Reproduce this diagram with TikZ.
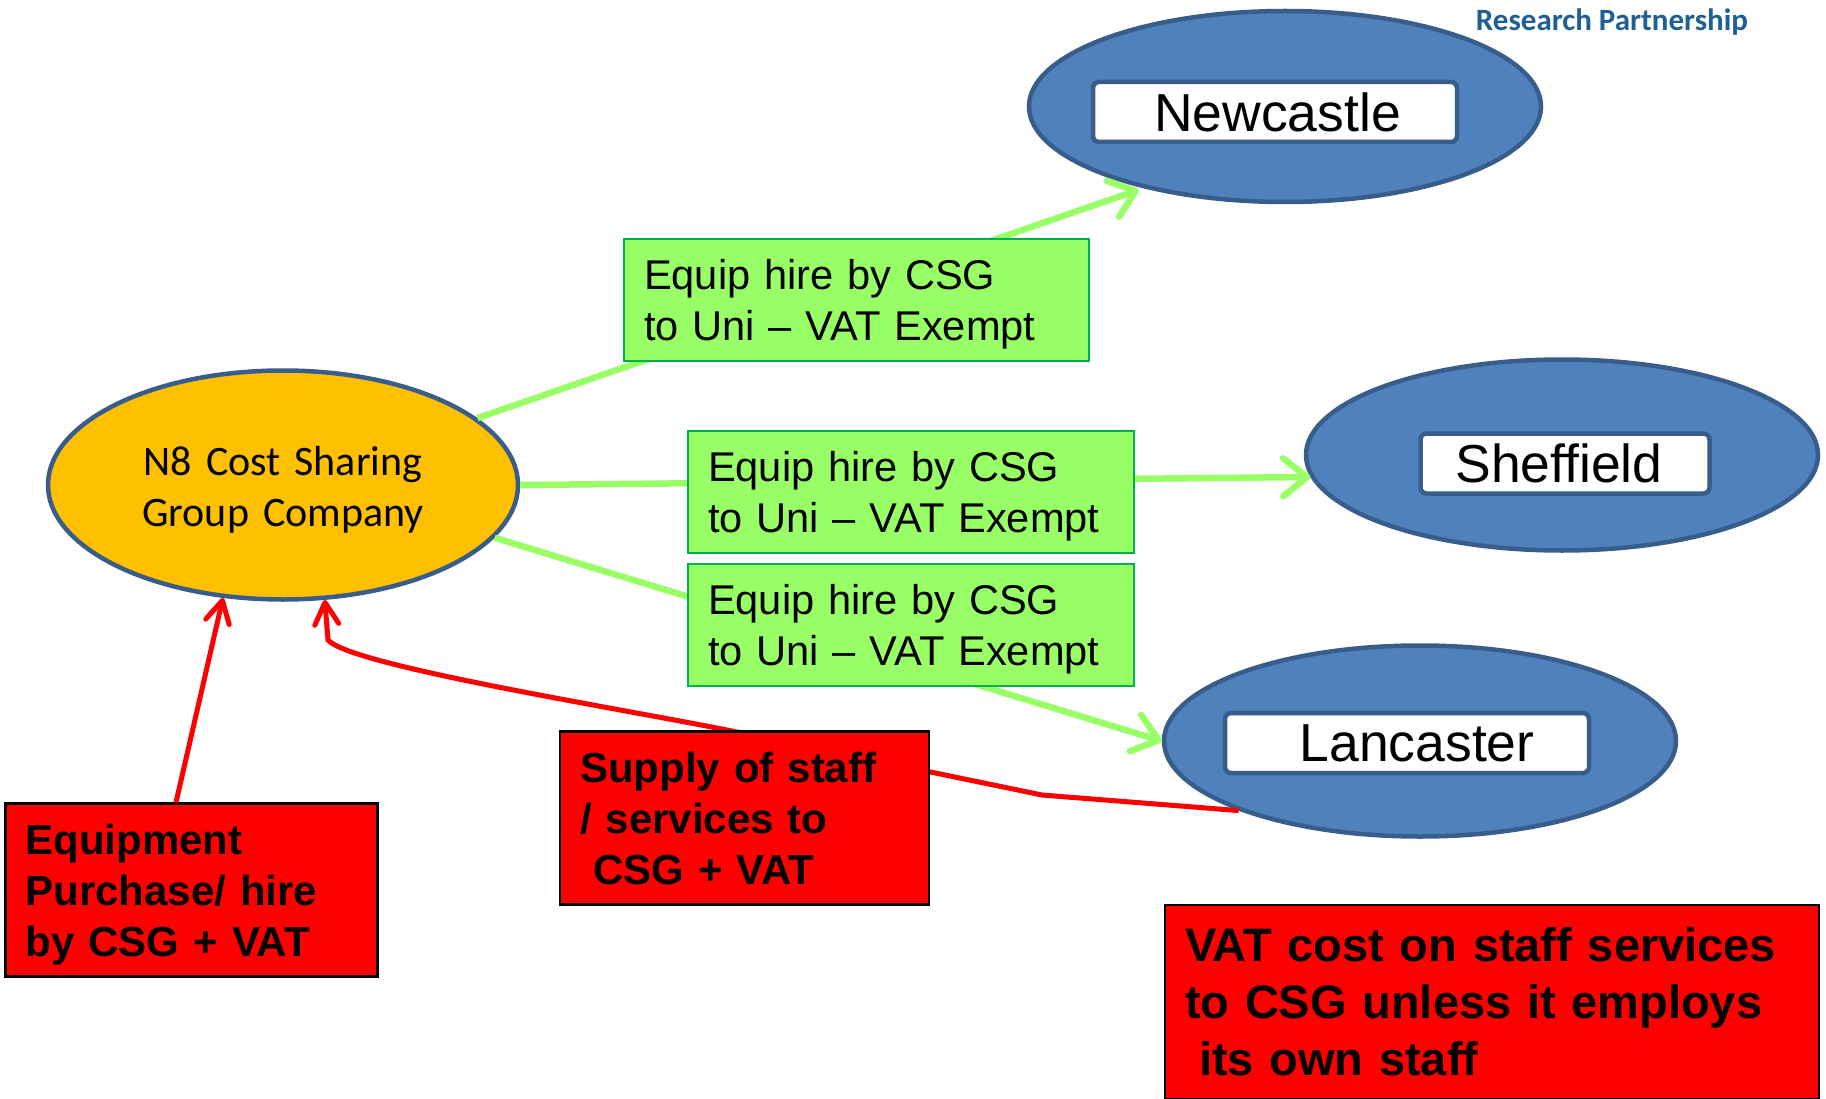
\documentclass[tikz,border=0pt]{standalone}
\usepackage{fontspec}
\setmainfont{Liberation Sans}
\newfontfamily\calibrifont{Carlito}
\usetikzlibrary{arrows.meta, positioning, shapes.geometric, calc}
\definecolor{uniblue}{HTML}{4F81BD}
\definecolor{edgeblue}{HTML}{385D8A}
\definecolor{groupamber}{HTML}{FFC000}
\definecolor{hiregreen}{HTML}{99FF66}
\definecolor{edgegreen}{HTML}{00B050}
\definecolor{logoblue}{HTML}{1F5F93}
\tikzset{
  uni/.style={ellipse, draw=edgeblue, fill=uniblue, line width=4.5pt, inner sep=0pt, minimum width=512pt, minimum height=191pt},
  unilabel/.style={draw=edgeblue, fill=white, line width=4.5pt, rounded corners=6pt, inner sep=0pt, minimum height=60pt, font=\fontsize{53.5}{60}\selectfont},
  textdown/.style={execute at end node={\vspace*{-#1}}},
  hirebox/.style={draw=edgegreen, fill=hiregreen, line width=2pt, inner xsep=20pt, inner ysep=0pt, text width=406pt, align=left, minimum height=122pt, font=\fontsize{41.6}{51}\selectfont, textdown=9pt},
  vatbox/.style={draw=black, fill=red, line width=2.5pt, inner xsep=20pt, inner ysep=0pt, align=left, font=\bfseries\fontsize{42}{51}\selectfont},
  hireline/.style={draw=hiregreen, line width=6.5pt, -{Straight Barb[length=24pt,width=38pt,round]}},
  vatline/.style={draw=red, line width=5pt, -{Straight Barb[length=22pt,width=24pt,round]}}
}
\begin{document}
\begin{tikzpicture}[x=1pt,y=-1pt]
  \useasboundingbox (0,0) rectangle (1826,1099);
  % Logo
  \node[text=logoblue, font=\calibrifont\bfseries\fontsize{31}{36}\selectfont] (logo) at (1612,22) {Research Partnership};
  % Group company and universities
  \node[ellipse, draw=edgeblue, fill=groupamber, line width=4.5pt, inner sep=0pt, minimum width=470pt, minimum height=229pt, text width=300pt, align=center, font=\calibrifont\fontsize{42}{51}\selectfont, textdown=9pt] (n8) at (283,485) {N8 Cost Sharing\\Group Company};
  \node[uni] (newcastle) at (1285,106.5) {};
  \node[uni] (sheffield) at (1562,455) {};
  \node[uni] (lancaster) at (1420,741) {};
  \node[unilabel, minimum width=364pt] (newcastlelabel) at (1275,112) {\hspace*{5pt}Newcastle};
  \node[unilabel, minimum width=289pt] (sheffieldlabel) at (1565,463.5) {Sheffield\hspace*{12pt}};
  \node[unilabel, minimum width=364pt] (lancasterlabel) at (1407,743) {\hspace*{20pt}Lancaster};
  % Connectors run behind the boxes
  \draw[hireline, shorten >=5pt] (n8.19) -- (newcastle.210);
  \draw[hireline] (n8.0) -- (sheffield.185);
  \draw[hireline] (n8.-14) -- (lancaster.180);
  \coordinate (staffa) at (1042,795);
  \coordinate (staffb) at (727,730);
  \coordinate (staffc) at (328,640);
  \node[vatbox, minimum height=173pt, text width=332pt, textdown=9pt] (equip) at (191.5,890) {Equipment\\Purchase/ hire\\by CSG + VAT};
  \draw[vatline] (equip.100) -- (n8.242);
  \draw[vatline] (lancaster.201) -- (staffa) -- (staffb) .. controls (600,705) and (350,665) .. (staffc) -- (n8.290);
  % Boxes
  \node[hirebox, text width=425pt] (hirea) at (856.5,300) {Equip hire by CSG\\to Uni -- VAT Exempt};
  \node[hirebox] (hireb) at (911,492) {Equip hire by CSG\\to Uni -- VAT Exempt};
  \node[hirebox] (hirec) at (911,625) {Equip hire by CSG\\to Uni -- VAT Exempt};
  \node[vatbox, minimum height=173pt, text width=329pt] (supply) at (744.5,818) {Supply of staff\\/ services to\\\hspace*{13pt}CSG + VAT};
  \node[vatbox, minimum height=194pt, text width=614pt, font=\bfseries\fontsize{47}{57}\selectfont] (cost) at (1492,1002) {VAT cost on staff services\\to CSG unless it employs\\\hspace*{14pt}its own staff};
\end{tikzpicture}
\end{document}
